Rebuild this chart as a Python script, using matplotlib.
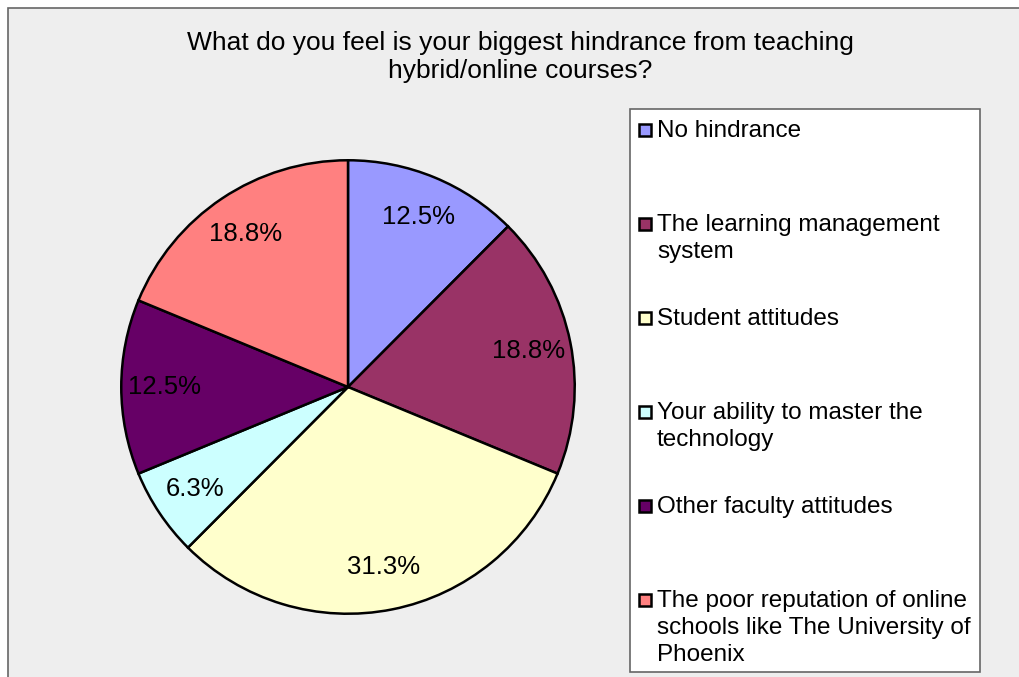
import matplotlib
matplotlib.use("Agg")
import matplotlib.pyplot as plt
from matplotlib.patches import Rectangle

# Survey responses: share of respondents per hindrance (%)
categories = [
    "No hindrance",
    "The learning management\nsystem",
    "Student attitudes",
    "Your ability to master the\ntechnology",
    "Other faculty attitudes",
    "The poor reputation of online\nschools like The University of\nPhoenix",
]
shares = [12.5, 18.8, 31.3, 6.3, 12.5, 18.8]
colors = ["#9999FF", "#993366", "#FFFFCC", "#CCFFFF", "#660066", "#FF8080"]
title = "What do you feel is your biggest hindrance from teaching\nhybrid/online courses?"

W, H = 1019, 677
FONT = "Liberation Sans"

fig = plt.figure(figsize=(W / 100, H / 100), dpi=100, facecolor="white")


def fx(px):
    return px / W


def fy(py):
    return 1 - py / H


# chart area background with frame
fig.patches.append(Rectangle((fx(8), fy(H + 10)), 1.2, fy(8) - fy(H + 10),
                             transform=fig.transFigure, facecolor="#EEEEEE",
                             edgecolor="#666666", linewidth=1.2, zorder=-5))

# title
for i, line in enumerate(title.split("\n")):
    fig.text(fx(520), fy(50 + 28 * i), line, ha="center", va="baseline",
             fontsize=19, family=FONT, color="black")

# pie
cx, cy, r = 348, 387, 229
ax = fig.add_axes([fx(cx - r), fy(cy + r), fx(2 * r), (2 * r) / H], zorder=2)
ax.set_facecolor("none")
wedges, texts, autotexts = ax.pie(
    shares, colors=colors, startangle=90, counterclock=False,
    autopct=lambda p: "", pctdistance=0.81,
    wedgeprops=dict(edgecolor="black", linewidth=1.8),
)
for t, v in zip(autotexts, shares):
    t.set_text(f"{v:.1f}%")
    t.set_fontsize(18.5)
    t.set_family(FONT)
    t.set_color("black")
ax.set_xlim(-1.01, 1.01)
ax.set_ylim(-1.01, 1.01)
ax.set_aspect("equal")
ax.axis("off")

# legend
fig.patches.append(Rectangle((fx(630), fy(672)), fx(980 - 630), fy(109) - fy(672),
                             transform=fig.transFigure, facecolor="white",
                             edgecolor="#666666", linewidth=1.2, zorder=-4))
base0, step, lh = 137, 94, 27
for i, (lab, c) in enumerate(zip(categories, colors)):
    b = base0 + step * i
    fig.patches.append(Rectangle((fx(639), fy(b - 1)), fx(12), 12 / H,
                                 transform=fig.transFigure, facecolor=c,
                                 edgecolor="black", linewidth=1.8, zorder=-3))
    for j, line in enumerate(lab.split("\n")):
        fig.text(fx(657), fy(b + lh * j), line, ha="left", va="baseline",
                 fontsize=17.5, family=FONT, color="black", zorder=3)

fig.savefig("out.png", dpi=100, facecolor="white")
